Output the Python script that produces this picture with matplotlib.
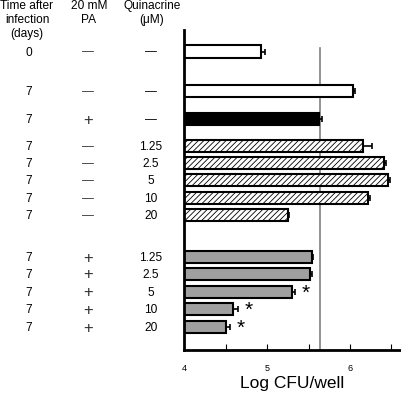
import matplotlib
matplotlib.use("Agg")
import matplotlib.pyplot as plt

plt.rcParams['font.family'] = ['Liberation Sans', 'DejaVu Sans']
plt.rcParams['hatch.linewidth'] = 0.6

# data
days = ['0', '7', '7', '7', '7', '7', '7', '7', '7', '7', '7', '7', '7']
pa = ['—', '—', '+', '—', '—', '—', '—', '—', '+', '+', '+', '+', '+']
quin = ['—', '—', '—', '1.25', '2.5', '5', '10', '20', '1.25', '2.5', '5', '10', '20']
log_cfu = [4.93, 6.04, 5.63, 6.16, 6.41, 6.46, 6.22, 5.25, 5.54, 5.52, 5.30, 4.59, 4.51]
err = [0.04, 0.02, 0.03, 0.10, 0.02, 0.02, 0.02, 0.02, 0.02, 0.02, 0.04, 0.06, 0.04]
signif = [False] * 10 + [True, True, True]
ref_level = 5.64

# layout: row centres in pixel rows of the figure
row_y = [51.5, 91, 119, 146, 163, 180, 198, 215, 257, 274, 292, 309, 327]
kinds = ['white', 'white', 'black'] + ['hatch'] * 5 + ['gray'] * 5

W, H = 401, 394
fig = plt.figure(figsize=(W / 100, H / 100), dpi=100)
ax = fig.add_axes([184 / W, 1 - 350 / H, (400 - 184) / W, 320 / H])
ax.set_xlim(4, 4 + (400 - 184) / 83)
ax.set_ylim(350, 30)

for y, v, e, k in zip(row_y, log_cfu, err, kinds):
    if k == 'white':
        fc, hatch = 'white', None
    elif k == 'black':
        fc, hatch = 'black', None
    elif k == 'hatch':
        fc, hatch = 'white', '//////'
    else:
        fc, hatch = '#a0a0a0', None
    ax.barh(y, v - 4, left=4, height=12.5, color=fc, edgecolor='black',
            linewidth=1.5, hatch=hatch, zorder=2)
    ax.errorbar(v, y, xerr=[[0], [e]], fmt='none', ecolor='black',
                elinewidth=1.2, capsize=2, capthick=1.2, zorder=3)

for y, v, e, s in zip(row_y, log_cfu, err, signif):
    if s:
        ax.text(v + e + 0.13, y + 1.5, '*', ha='center', va='center',
                fontsize=15)

ax.plot([ref_level, ref_level], [350, 48], color='#808080', lw=1.2, zorder=1)

for side in ['top', 'right']:
    ax.spines[side].set_visible(False)
ax.spines['left'].set_linewidth(2)
ax.spines['bottom'].set_linewidth(2)
ax.set_yticks([])
ax.set_xticks([4, 4.5, 5, 5.5, 6, 6.5])
ax.set_xticklabels(['4', '', '5', '', '6', ''])
ax.tick_params(axis='x', direction='in', length=4, width=0.8,
               labelsize=6.5, pad=10)
ax.set_xlabel('Log CFU/well', fontsize=12.5, labelpad=2)


def ftext(x, y, s, size=8.6, **kw):
    fig.text(x / W, 1 - y / H, s, ha='center', va='center', fontsize=size, **kw)


ftext(27, 6, 'Time after')
ftext(27, 20, 'infection')
ftext(27, 34, '(days)')
ftext(89, 6, '20 mM')
ftext(89, 20, 'PA')
ftext(152, 6, 'Quinacrine')
ftext(152, 20, '(μM)')

for y, d, p, q in zip(row_y, days, pa, quin):
    ftext(29, y + 1, d)
    if p == '+':
        ftext(88, y + 1, p, size=12, color='#333333', fontweight='light')
    else:
        ftext(88, y + 1, p, color='#333333')
    ftext(151, y + 1, q)

fig.savefig('out.png', dpi=100)
